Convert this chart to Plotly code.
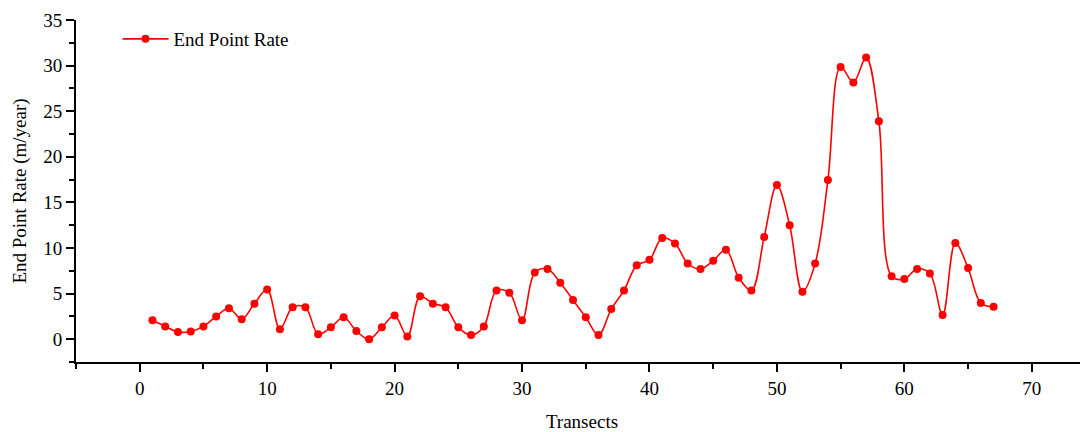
import plotly.graph_objects as go

transects = list(range(1, 68))
epr = [2.07, 1.4, 0.8, 0.85, 1.4, 2.5, 3.4, 2.2, 3.9, 5.45,
       1.1, 3.5, 3.5, 0.55, 1.3, 2.4, 0.9, 0.0, 1.3, 2.6,
       0.3, 4.7, 3.9, 3.5, 1.3, 0.45, 1.4, 5.35, 5.1, 2.07,
       7.3, 7.7, 6.2, 4.3, 2.4, 0.45, 3.3, 5.35, 8.1, 8.7,
       11.1, 10.5, 8.3, 7.7, 8.6, 9.8, 6.75, 5.35, 11.2, 16.9,
       12.5, 5.2, 8.3, 17.45, 29.85, 28.15, 30.9, 23.9, 6.9, 6.6,
       7.7, 7.2, 2.65, 10.55, 7.8, 3.96, 3.55]

FONT = "Liberation Serif"

fig = go.Figure()
fig.add_trace(go.Scatter(
    x=transects, y=epr, name="End Point Rate",
    mode="lines+markers",
    line=dict(color="#FF0000", width=1.6, shape="spline", smoothing=1.0),
    marker=dict(color="#FF0000", size=8),
))

axis_common = dict(
    showgrid=False, zeroline=False, showline=True, linecolor="black", linewidth=2,
    ticks="outside", tickcolor="black", tickwidth=2, ticklen=8,
    tickfont=dict(family=FONT, size=19, color="black"),
)

fig.update_layout(
    width=1080, height=424,
    margin=dict(l=68, r=0, t=12, b=66),
    paper_bgcolor="white", plot_bgcolor="white",
    font=dict(family=FONT, size=19, color="black"),
    showlegend=True,
    legend=dict(x=0.041, y=1.0, xanchor="left", yanchor="top", itemwidth=46,
                bgcolor="rgba(0,0,0,0)", font=dict(family=FONT, size=19, color="black")),
    xaxis=dict(range=[-5, 74.41], tick0=0, dtick=10,
               minor=dict(ticks="outside", dtick=5, tick0=0, ticklen=5, tickwidth=2, tickcolor="black"),
               title=dict(text="Transects", font=dict(family=FONT, size=19), standoff=20),
               **axis_common),
    yaxis=dict(range=[-2.5, 35], tick0=0, dtick=5,
               minor=dict(ticks="outside", dtick=2.5, tick0=0, ticklen=5, tickwidth=2, tickcolor="black"),
               title=dict(text="End Point Rate (m/year)", font=dict(family=FONT, size=19), standoff=12),
               **axis_common),
)

fig.write_html("out.html")
